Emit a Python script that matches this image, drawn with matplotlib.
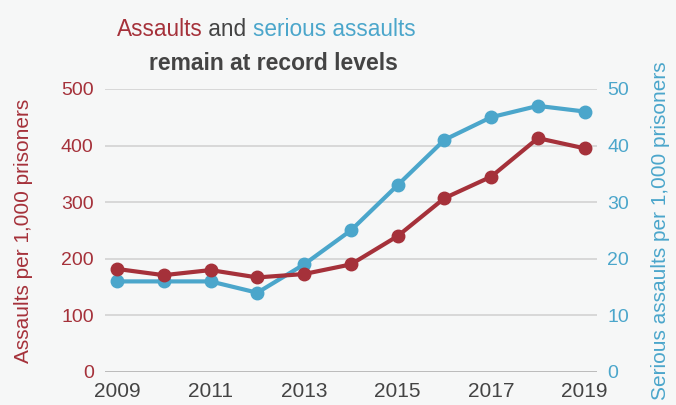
import matplotlib.pyplot as plt

# rates per 1,000 prisoners, England & Wales
years = [2009, 2010, 2011, 2012, 2013, 2014, 2015, 2016, 2017, 2018, 2019]
assaults = [182, 171, 180, 167, 173, 190, 240, 307, 345, 413, 395]
serious = [16, 16, 16, 14, 19, 25, 33, 41, 45, 47, 46]

red = '#a5313a'
blue = '#4ba6cb'
grey = '#444444'
bg = '#f6f7f7'

plt.rcParams['font.family'] = ['Liberation Sans', 'DejaVu Sans']

fig = plt.figure(figsize=(6.76, 4.05), dpi=100, facecolor=bg)
ax = fig.add_axes([0.155, 0.0815, 0.728, 0.699])
ax.set_facecolor(bg)
ax2 = ax.twinx()

ax.set_xlim(2008.74, 2019.26)
ax.set_ylim(0, 500)
ax2.set_ylim(0, 50)
ax.set_yticks(range(0, 501, 100))
ax2.set_yticks(range(0, 51, 10))
ax.set_xticks(range(2009, 2020, 2))

for y in range(100, 501, 100):
    ax.axhline(y, color='#d8d8d8', lw=1.4, zorder=0)
ax.axhline(0, color='#bbbbbb', lw=1.4, zorder=0)

# serious assaults drawn on the left scale so the red line stays on top
ax.plot(years, [v * 10 for v in serious], color=blue, lw=3, marker='o', ms=9, zorder=3)
ax.plot(years, assaults, color=red, lw=3, marker='o', ms=9, zorder=4)

for a in (ax, ax2):
    for s in a.spines.values():
        s.set_visible(False)
    a.tick_params(length=0, labelsize=14)
ax.tick_params(axis='y', colors=red, pad=8)
ax.tick_params(axis='x', colors=grey, pad=7, labelsize=15)
ax2.tick_params(axis='y', colors=blue, pad=7.5)

ax.set_ylabel('Assaults per 1,000 prisoners', color=red, fontsize=15, labelpad=20)
ax2.set_ylabel('Serious assaults per 1,000 prisoners', color=blue, fontsize=15, labelpad=16)

# two-colour first title line, pieces placed one after another
fig.canvas.draw()
r = fig.canvas.get_renderer()
pieces = [('Assaults', red), (' and ', grey), ('serious assaults', blue)]
texts = [fig.text(0, 0.911, s, color=c, fontsize=16.3, va='baseline') for s, c in pieces]
widths = [t.get_window_extent(r).width for t in texts]
x = 266 - sum(widths) / 2
for t, w in zip(texts, widths):
    t.set_x(x / 676)
    x += w
fig.text(273 / 676, 0.827, 'remain at record levels', color=grey, fontsize=16.5,
         fontweight='bold', ha='center', va='baseline')

fig.savefig('out.png', facecolor=bg)
